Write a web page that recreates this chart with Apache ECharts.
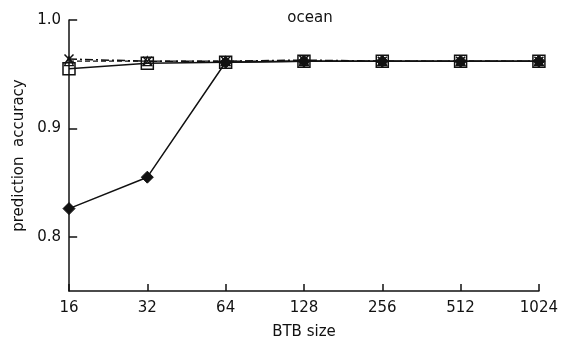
<!DOCTYPE html>
<html><head><meta charset="utf-8">
<script src="https://cdn.jsdelivr.net/npm/echarts@6/dist/echarts.min.js"></script>
<style>html,body{margin:0;padding:0;background:#fff}#c{width:561px;height:345px}</style>
</head><body><div id="c"></div>
<script>
const btbSizes = [16, 32, 64, 128, 256, 512, 1024];
const seriesSquare = [0.955, 0.960, 0.961, 0.962, 0.962, 0.962, 0.962];
const seriesDiamond = [0.826, 0.855, 0.961, 0.962, 0.962, 0.962, 0.962];
const seriesCross = [0.964, 0.962, 0.962, 0.963, 0.962, 0.962, 0.962];
const seriesTriangle = [0.962, 0.962, 0.962, 0.962, 0.962, 0.962, 0.962];
const yTicks = [0.8, 0.9, 1.0];

const font = 'DejaVu Sans';
const pairs = a => btbSizes.map((x, i) => [x, a[i]]);
const crossPath = 'path://M0,0 L10,10 M10,0 L0,10';
const chart = echarts.init(document.getElementById('c'));
chart.setOption({
  animation: false,
  title: { text: 'ocean', left: 305, top: 6, textAlign: 'center',
    textStyle: { fontFamily: font, fontSize: 15, fontWeight: 'normal', color: '#111' } },
  grid: { left: 69, right: 20, top: 20, bottom: 50 },
  xAxis: {
    type: 'log', logBase: 2, min: 16, max: 1024,
    name: 'BTB size', nameLocation: 'middle', nameGap: 34,
    nameTextStyle: { fontFamily: font, fontSize: 15, color: '#111' },
    axisLine: { lineStyle: { color: '#111', width: 1.5 } },
    axisTick: { inside: true, length: 7, lineStyle: { color: '#111', width: 1.5 } },
    axisLabel: { fontFamily: font, fontSize: 15, color: '#111', margin: 10,
      formatter: v => String(Math.round(v)) },
    splitLine: { show: false }, minorTick: { show: false }
  },
  yAxis: {
    type: 'value', min: 0.75, max: 1.0,
    name: 'prediction  accuracy', nameLocation: 'middle', nameGap: 42, nameRotate: 90,
    nameTextStyle: { fontFamily: font, fontSize: 15, color: '#111' },
    axisLine: { show: true, lineStyle: { color: '#111', width: 1.5 } },
    axisTick: { show: false },
    axisLabel: { fontFamily: font, fontSize: 15, color: '#111', margin: 8,
      formatter: v => (yTicks.some(t => Math.abs(t - v) < 1e-9) ? v.toFixed(1) : '') },
    interval: 0.05,
    splitLine: { show: false }
  },
  series: [
    { type: 'line', data: pairs(seriesCross), symbol: crossPath, symbolSize: 9,
      lineStyle: { color: '#111', width: 1.5, type: [8, 3, 2, 3] },
      itemStyle: { color: '#fff', borderColor: '#111', borderWidth: 1.5 } },
    { type: 'line', data: pairs(seriesTriangle), symbol: 'triangle', symbolSize: 9,
      lineStyle: { color: '#111', width: 1.2, type: [5, 3] },
      itemStyle: { color: 'rgba(255,255,255,0)', borderColor: '#111', borderWidth: 1.2 } },
    { type: 'line', data: pairs(seriesSquare), symbol: 'rect', symbolSize: 12,
      lineStyle: { color: '#111', width: 1.5 },
      itemStyle: { color: 'rgba(255,255,255,0)', borderColor: '#111', borderWidth: 1.5 } },
    { type: 'line', data: pairs(seriesDiamond), symbol: 'diamond', symbolSize: 12,
      lineStyle: { color: '#111', width: 1.5 },
      itemStyle: { color: '#111', borderColor: '#111', borderWidth: 1 } },
    { type: 'line', data: yTicks.map(v => [16, v]), symbol: 'none', silent: true,
      lineStyle: { width: 0 },
      markLine: { silent: true, symbol: 'none', label: { show: false },
        lineStyle: { color: '#111', width: 1.5, type: 'solid' },
        data: yTicks.map(v => [{ coord: [16, v] }, { coord: [17.2, v] }]) } }
  ]
});
</script></body></html>
